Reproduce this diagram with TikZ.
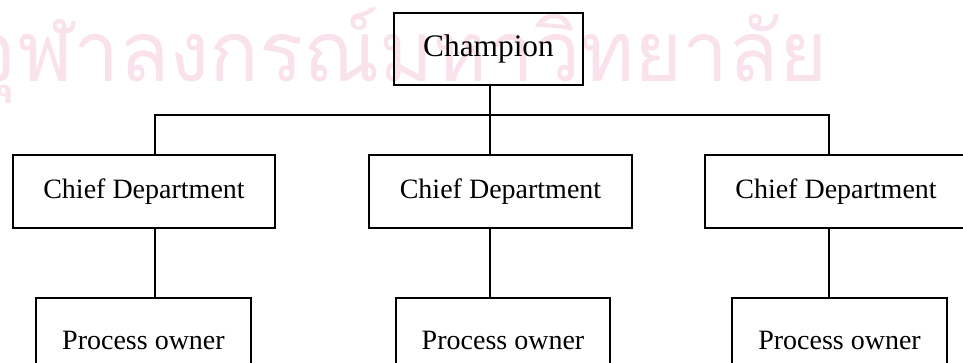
\documentclass[tikz,border=0pt]{standalone}
\usepackage{fontspec}
\setmainfont{Liberation Serif}
\newfontfamily\thaifont[Script=Thai]{Loma}
\usetikzlibrary{positioning}
\definecolor{markpink}{RGB}{250,226,237}
\tikzset{headbox/.style={rectangle,draw=black,line width=1.5pt,
inner sep=2pt,minimum height=54pt, minimum width=142pt,font=\fontsize{23.5}{28}\selectfont}}
\tikzset{chiefbox/.style={rectangle,draw=black,line width=1.5pt,
inner sep=2pt,minimum height=55pt, minimum width=197pt,font=\fontsize{21}{25}\selectfont}}
\tikzset{ownerbox/.style={rectangle,draw=black,line width=1.5pt,
inner sep=2pt,minimum height=63pt, minimum width=161pt,font=\fontsize{21}{25}\selectfont}}
\tikzset{watermark/.style={inner sep=0pt,text=markpink,font=\thaifont\fontsize{70}{80}\selectfont}}

\begin{document}
\begin{tikzpicture}[x=0.75pt,y=-0.75pt]
    \useasboundingbox (0,0) rectangle (963,362);

    \node[watermark] (mark) at (398,56) {\scalebox{0.88}[0.9]{จุฬาลงกรณ์มหาวิทยาลัย}};

    \node[headbox] (champ) at (488.5,49) {Champion};

    \node[chiefbox] (chiefA) at (144,191.5) {Chief Department};
    \node[chiefbox] (chiefB) at (500.5,191.5) {Chief Department};
    \node[chiefbox] (chiefC) at (836,191.5) {Chief Department};

    \node[ownerbox] (ownerA) at (143.5,340) {Process owner};
    \node[ownerbox] (ownerB) at (503,340) {Process owner};
    \node[ownerbox] (ownerC) at (839.5,340) {Process owner};

    \coordinate (barA) at (155,115);
    \coordinate (barB) at (490,115);
    \coordinate (barC) at (829,115);

    \draw [line width=1.5pt] (champ.south -| barB) -- (barB);
    \draw [line width=1.5pt] (barA |- chiefA.north) -- (barA) -- (barC) -- (barC |- chiefC.north);
    \draw [line width=1.5pt] (barB) -- (barB |- chiefB.north);

    \draw [line width=1.5pt] (chiefA.south -| barA) -- (ownerA.north -| barA);
    \draw [line width=1.5pt] (chiefB.south -| barB) -- (ownerB.north -| barB);
    \draw [line width=1.5pt] (chiefC.south -| barC) -- (ownerC.north -| barC);

\end{tikzpicture}
\end{document}
